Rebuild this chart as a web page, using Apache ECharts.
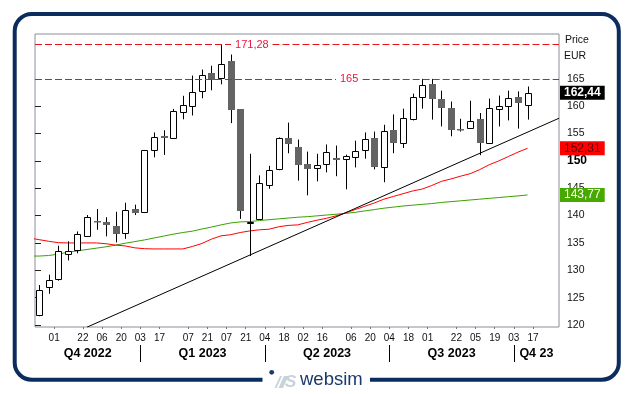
<!DOCTYPE html>
<html><head><meta charset="utf-8">
<script src="https://cdn.jsdelivr.net/npm/echarts@6/dist/echarts.min.js"></script>
<style>html,body{margin:0;padding:0;background:#fff}#c{width:633px;height:394px}</style>
</head><body><div id="c"></div>
<script>
// ---------- DATA ----------
const candleDates = ['2022-10-21','2022-10-28','2022-11-04','2022-11-11','2022-11-18','2022-11-25','2022-12-02','2022-12-09','2022-12-16','2022-12-23','2022-12-30',
  '2023-01-06','2023-01-13','2023-01-20','2023-01-27','2023-02-03','2023-02-10','2023-02-17','2023-02-24','2023-03-03','2023-03-10','2023-03-17','2023-03-24','2023-03-31',
  '2023-04-07','2023-04-14','2023-04-21','2023-04-28','2023-05-05','2023-05-12','2023-05-19','2023-05-26','2023-06-02','2023-06-09','2023-06-16','2023-06-23','2023-06-30',
  '2023-07-07','2023-07-14','2023-07-21','2023-07-28','2023-08-04','2023-08-11','2023-08-18','2023-08-25','2023-09-01','2023-09-08','2023-09-15','2023-09-22','2023-09-29',
  '2023-10-06','2023-10-13'];
const openValues  = [121.8,127.0,128.4,133.0,133.7,136.2,139.0,138.9,138.1,136.8,141.25,140.6,152.0,154.6,154.2,158.95,160.05,162.8,166.1,165.1,168.2,159.4,138.6,139.35,145.6,148.5,154.2,152.6,149.5,148.7,149.4,150.45,150.35,150.7,152.0,154.1,148.9,155.7,153.3,157.6,161.7,164.0,161.4,159.75,155.75,156.0,157.65,153.3,159.5,160.05,161.75,160.2];
const closeValues = [126.35,128.2,133.5,133.5,136.6,139.7,139.0,138.2,136.55,141.0,140.4,152.0,154.4,154.1,159.1,160.2,162.6,165.7,164.75,167.7,159.3,140.9,138.9,145.95,148.3,154.1,153.1,149.2,148.45,149.25,151.6,150.1,150.95,151.8,154.0,148.8,155.5,153.2,157.85,161.7,163.8,161.4,159.75,155.6,155.7,157.35,153.2,159.7,160.0,161.5,160.55,162.44];
const lowValues   = [121.6,125.7,128.1,131.8,133.1,136.1,137.4,136.2,135.1,135.75,140.1,140.5,150.65,151.1,154.1,157.6,158.3,161.45,162.9,164.0,156.9,139.4,132.6,139.3,144.9,148.3,151.4,146.4,143.7,146.25,147.9,147.2,144.8,148.8,150.4,148.45,146.1,151.4,152.35,157.4,159.55,157.55,156.3,154.5,155.35,156.0,151.05,153.2,156.3,157.4,155.9,157.55];
const highValues  = [127.3,129.2,134.5,135.3,137.1,140.1,141.2,139.7,140.7,142.35,142.0,152.0,155.2,155.6,159.5,161.9,165.6,166.7,167.4,171.28,169.45,159.4,151.3,147.35,149.1,154.3,157.0,153.9,151.7,151.3,153.0,152.8,151.15,153.7,155.2,155.35,156.6,158.5,159.55,162.3,165.0,165.0,162.85,160.85,157.7,161.0,158.75,161.4,161.95,162.85,162.7,163.6];

const maStartDate = '2022-10-14';
const maRed = [135.9,135.6,135.3,135.05,135.0,135.0,135.0,135.0,134.85,134.6,134.45,134.1,133.95,133.9,133.9,133.9,133.9,134.35,134.9,135.7,136.3,136.5,136.9,137.2,137.4,137.5,137.95,138.2,138.3,138.75,139.15,139.5,139.95,140.5,141.1,141.7,142.3,143.0,143.5,144.0,144.5,144.85,145.5,146.25,146.7,147.2,147.65,148.4,149.3,150.0,150.8,151.6,152.31];
const maGreen = [132.6,132.6,132.7,132.95,133.3,133.55,133.8,134.05,134.3,134.6,134.95,135.25,135.55,135.9,136.25,136.6,136.9,137.15,137.55,137.9,138.3,138.65,138.85,138.9,139.1,139.25,139.4,139.55,139.7,139.8,139.95,140.1,140.25,140.4,140.6,140.85,141.1,141.35,141.55,141.75,141.9,142.05,142.2,142.4,142.55,142.7,142.85,143.0,143.15,143.3,143.45,143.6,143.77];

const trendLine = [['2022-11-25', 119.6], ['2023-11-05', 157.8]];
const levels = [171.28, 165];

const tickDates = ['2022-11-01','2022-11-22','2022-12-06','2022-12-20','2023-01-03','2023-01-17','2023-02-07','2023-02-21','2023-03-07','2023-03-21',
  '2023-04-04','2023-04-18','2023-05-02','2023-05-16','2023-06-06','2023-06-20','2023-07-04','2023-07-18','2023-08-01','2023-08-22','2023-09-05','2023-09-19','2023-10-03','2023-10-17'];
const quarterBreaks = ['2023-01-03','2023-04-04','2023-07-04','2023-10-03'];
const quarterLabels = ['Q4 2022','Q1 2023','Q2 2023','Q3 2023','Q4 23'];
const yTicks = [120,125,130,135,140,145,150,155,160,165];
const xRange = ['2022-10-18','2023-11-05'];
const yRange = [119.63, 173.2];

// ---------- helpers ----------
const ORIGIN = Date.parse(xRange[0] + 'T00:00:00Z');
const day = s => Math.round((Date.parse(s + 'T00:00:00Z') - ORIGIN) / 864e5);
const fmt = v => Number.isInteger(v) ? String(v) : v.toFixed(2).replace('.', ',');
const X_MIN = day(xRange[0]), X_MAX = day(xRange[1]);
const FONT = '"Liberation Sans", Arial, sans-serif';

const candleData = candleDates.map((d, i) => [day(d), openValues[i], closeValues[i], lowValues[i], highValues[i]]);
const maDays = [maStartDate].concat(candleDates).map(day);
const redData = maDays.map((d, i) => [d, maRed[i]]);
const greenData = maDays.map((d, i) => [d, maGreen[i]]);
const trendData = trendLine.map(p => [day(p[0]), p[1]]);
const tickDays = tickDates.map(day);
const tickLabelByDay = {};
tickDates.forEach(s => { tickLabelByDay[day(s)] = s.slice(8, 10); });
const qb = quarterBreaks.map(day);
const qBounds = [X_MIN].concat(qb, [X_MAX]);

const lastClose = closeValues[closeValues.length - 1];
const lastRed = maRed[maRed.length - 1];
const lastGreen = maGreen[maGreen.length - 1];

// gaps in dashed level lines (layout, in axis days)
const levelGaps = [[143.3, 173.6], [220, 239.5]];

const chart = echarts.init(document.getElementById('c'), null, {renderer: 'canvas'});

const option = {
  animation: false,
  backgroundColor: '#fff',
  textStyle: {fontFamily: FONT},
  grid: [
    {left: 35, right: 74, top: 34, bottom: 67, show: true, borderColor: '#8c8c99', borderWidth: 1, backgroundColor: 'transparent'},
    {left: 35, right: 74, top: 345, height: 17, show: false}
  ],
  xAxis: [
    {gridIndex: 0, type: 'value', min: X_MIN, max: X_MAX, position: 'bottom',
     axisLine: {show: false, onZero: false}, splitLine: {show: false},
     axisTick: {show: true, customValues: tickDays, length: 2, lineStyle: {color: '#777'}},
     axisLabel: {show: true, customValues: tickDays, margin: 6, fontSize: 10, color: '#111', fontFamily: FONT,
       formatter: v => tickLabelByDay[Math.round(v)] || ''}},
    {gridIndex: 1, type: 'value', min: X_MIN, max: X_MAX, show: false}
  ],
  yAxis: [
    {gridIndex: 0, type: 'value', position: 'right', min: yRange[0], max: yRange[1], scale: true,
     axisLine: {show: false}, splitLine: {show: false},
     axisTick: {show: true, customValues: yTicks, length: 6, lineStyle: {color: '#222'}},
     axisLabel: {show: true, customValues: yTicks, margin: 8, fontSize: 10.5, color: '#111', fontFamily: FONT,
       formatter: v => v === 150 ? '{b|150}' : String(v),
       rich: {b: {fontWeight: 'bold', fontSize: 12, color: '#000', fontFamily: FONT}}}},
    {gridIndex: 1, type: 'value', min: 0, max: 1, show: false}
  ],
  series: [
    {
      name: 'green', type: 'line', xAxisIndex: 0, yAxisIndex: 0, data: greenData, showSymbol: false, z: 2,
      lineStyle: {color: '#3aa000', width: 1}, silent: true
    },
    {
      name: 'red', type: 'line', xAxisIndex: 0, yAxisIndex: 0, data: redData, showSymbol: false, z: 2,
      lineStyle: {color: '#ff0000', width: 1}, silent: true
    },
    {
      name: 'trend', type: 'line', xAxisIndex: 0, yAxisIndex: 0, data: trendData, showSymbol: false, z: 2,
      lineStyle: {color: '#000', width: 1}, silent: true,
      markLine: {
        silent: true, symbol: ['none', 'none'], animation: false,
        label: {show: false},
        lineStyle: {color: '#e8141c', type: [7, 3], width: 1},
        data: levels.flatMap((lv, i) => [
          [{coord: [X_MIN, lv], label: {show: true, position: 'end', distance: 4, formatter: fmt(lv), color: '#f0143c', fontSize: 11, fontFamily: FONT}},
           {coord: [levelGaps[i][0], lv]}],
          [{coord: [levelGaps[i][1], lv]}, {coord: [X_MAX, lv]}]
        ])
      }
    },
    {
      name: 'candles', type: 'custom', xAxisIndex: 0, yAxisIndex: 0, z: 4, clip: true,
      encode: {x: 0, y: [1, 2, 3, 4]},
      data: candleData,
      renderItem: function (params, api) {
        const x = api.value(0), o = api.value(1), c = api.value(2), l = api.value(3), h = api.value(4);
        const pH = api.coord([x, h]), pL = api.coord([x, l]);
        const pO = api.coord([x, o]), pC = api.coord([x, c]);
        const cx = Math.round(pH[0]);
        const top = Math.round(Math.min(pO[1], pC[1]));
        const bot = Math.round(Math.max(pO[1], pC[1]));
        const children = [{type: 'line', shape: {x1: cx + 0.5, y1: pH[1], x2: cx + 0.5, y2: pL[1]},
          style: {stroke: '#000', lineWidth: 1}}];
        if (c > o) {
          children.push({type: 'rect', shape: {x: cx - 3 + 0.5, y: top + 0.5, width: 6, height: Math.max(1, bot - top)},
            style: {fill: '#fff', stroke: '#000', lineWidth: 1}});
        } else {
          children.push({type: 'rect', shape: {x: cx - 3, y: top, width: 7, height: Math.max(1.5, bot - top)},
            style: {fill: '#646464', stroke: null}});
        }
        return {type: 'group', children: children};
      }
    },
    {
      name: 'valueBoxes', type: 'line', xAxisIndex: 0, yAxisIndex: 0, z: 10, clip: false,
      data: [[X_MIN, lastClose]], showSymbol: false, lineStyle: {color: 'rgba(0,0,0,0)'}, silent: true,
      markLine: {
        silent: true, symbol: ['none', 'none'], animation: false,
        lineStyle: {color: 'rgba(0,0,0,0)', width: 1, type: 'solid'},
        label: {show: true, position: 'end', distance: 1, fontSize: 12, lineHeight: 13, padding: [1, 4, 0, 4], fontFamily: FONT},
        data: [
          {yAxis: lastClose, label: {formatter: fmt(lastClose), backgroundColor: '#000', color: '#fff', fontWeight: 'bold'}},
          {yAxis: lastRed, label: {formatter: fmt(lastRed), backgroundColor: '#ff0000', color: '#5a0000'}},
          {yAxis: lastGreen, label: {formatter: fmt(lastGreen), backgroundColor: '#47a800', color: '#fff'}}
        ]
      }
    },
    {
      name: 'quarters', type: 'line', xAxisIndex: 1, yAxisIndex: 1, z: 2,
      data: [[X_MIN, 0.5], [X_MAX, 0.5]], showSymbol: false, lineStyle: {color: 'rgba(0,0,0,0)'}, silent: true,
      markLine: {
        silent: true, symbol: ['none', 'none'], animation: false,
        label: {show: false},
        lineStyle: {color: '#000', type: 'solid', width: 1},
        data: qb.map(d => ({xAxis: d}))
      },
      markArea: {
        silent: true,
        itemStyle: {color: 'rgba(0,0,0,0)'},
        label: {show: true, position: 'inside', fontWeight: 'bold', fontSize: 12.5, color: '#000', fontFamily: FONT},
        data: quarterLabels.map((q, i) => [{xAxis: qBounds[i], name: q}, {xAxis: qBounds[i + 1]}])
      }
    }
  ],
  graphic: [
    {type: 'rect', shape: {x: 14.7, y: 14, width: 604.1, height: 365.7, r: 17},
     style: {fill: 'none', stroke: '#0a2c5e', lineWidth: 4}, silent: true, z: 100},
    {type: 'rect', shape: {x: 262.5, y: 375, width: 107.5, height: 9}, style: {fill: '#fff'}, silent: true, z: 101},
    {type: 'circle', shape: {cx: 271.7, cy: 372.3, r: 2.4}, style: {fill: '#1b3a6b'}, silent: true, z: 102},
    {type: 'polygon', shape: {points: [[274.5, 388], [276.5, 388], [282, 376], [280, 376]]}, style: {fill: '#c8d2dc'}, silent: true, z: 102},
    {type: 'polygon', shape: {points: [[278.5, 388], [283, 388], [288.5, 376], [284, 376]]}, style: {fill: '#c8d2dc'}, silent: true, z: 102},
    {type: 'text', left: 285, top: 374, style: {text: 'S', font: 'italic bold 17px ' + FONT, fill: '#c8d2dc'}, silent: true, z: 102},
    {type: 'text', left: 300, top: 370, style: {text: 'websim', font: '18.5px ' + FONT, fill: '#1b3a6b'}, silent: true, z: 102},
    {type: 'text', left: 565, top: 35, style: {text: 'Price', font: '10.5px ' + FONT, fill: '#111'}, silent: true, z: 102},
    {type: 'text', left: 564, top: 51, style: {text: 'EUR', font: '10.5px ' + FONT, fill: '#111'}, silent: true, z: 102}
  ]
};
chart.setOption(option);
</script>
</body></html>
